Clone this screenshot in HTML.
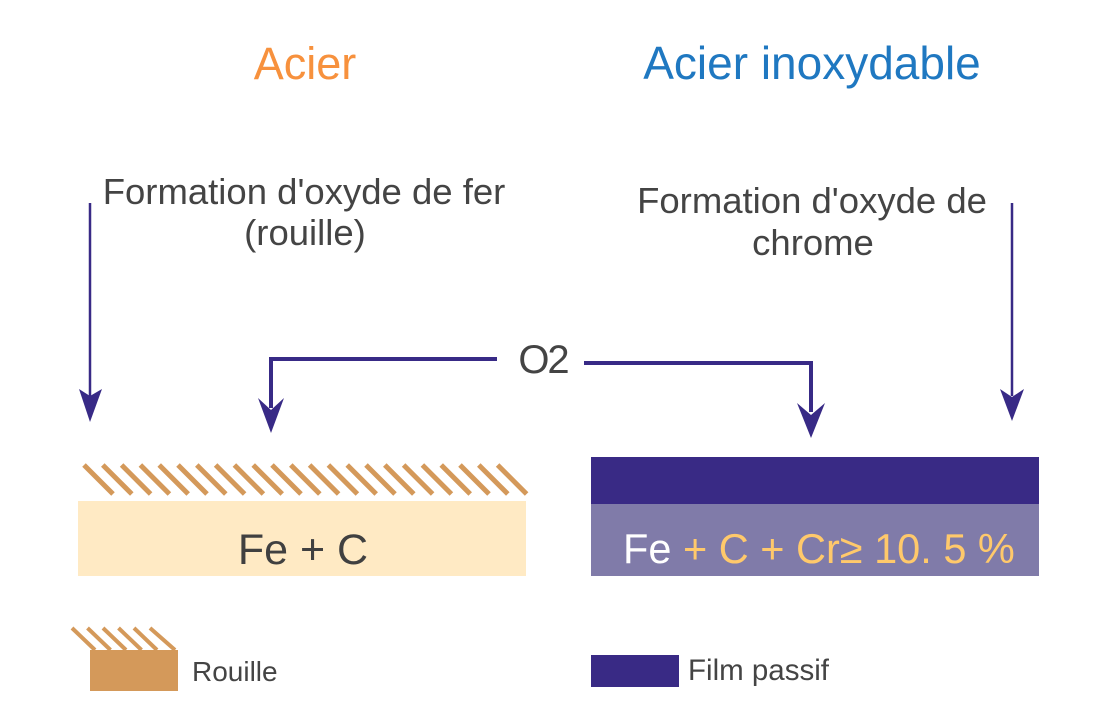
<!DOCTYPE html>
<html>
<head>
<meta charset="utf-8">
<style>
  html, body { margin: 0; padding: 0; background: #ffffff; }
  body { width: 1113px; height: 723px; overflow: hidden; }
  svg { display: block; }
  text { font-family: "Liberation Sans", "DejaVu Sans", sans-serif; }
</style>
</head>
<body>
<svg width="1113" height="723" viewBox="0 0 1113 723" xmlns="http://www.w3.org/2000/svg">
  <rect x="0" y="0" width="1113" height="723" fill="#ffffff"/>

  <!-- Titles -->
  <text x="305" y="79" font-size="45" fill="#f7913d" text-anchor="middle">Acier</text>
  <text x="812" y="79" font-size="46" fill="#1f78c1" text-anchor="middle">Acier inoxydable</text>

  <!-- Subtitles -->
  <text x="304" y="204" font-size="36.5" fill="#444444" text-anchor="middle">Formation d'oxyde de fer</text>
  <text x="305" y="245" font-size="36.5" fill="#444444" text-anchor="middle">(rouille)</text>
  <text x="812" y="213" font-size="36.5" fill="#444444" text-anchor="middle">Formation d'oxyde de</text>
  <text x="813" y="255" font-size="36.5" fill="#444444" text-anchor="middle">chrome</text>

  <!-- Thin side arrows -->
  <line x1="90" y1="203" x2="90" y2="396" stroke="#382a86" stroke-width="2.5"/>
  <polygon points="79,389 90,396 102,389 90,422" fill="#382a86"/>
  <line x1="1012" y1="203" x2="1012" y2="396" stroke="#382a86" stroke-width="2.5"/>
  <polygon points="1000,389 1012,397 1024,389 1012,421" fill="#382a86"/>

  <!-- O2 connectors -->
  <text x="543" y="373" font-size="40" fill="#444444" text-anchor="middle" letter-spacing="-2">O2</text>
  <polyline points="497,359 271,359 271,408" fill="none" stroke="#382a86" stroke-width="4"/>
  <polygon points="258,398 271,410 284,398 271,433" fill="#382a86"/>
  <polyline points="584,363 811,363 811,412" fill="none" stroke="#382a86" stroke-width="4"/>
  <polygon points="797,403 811,415 825,403 811,438" fill="#382a86"/>

  <!-- Left: rust hatch -->
  <g stroke="#d4995a" stroke-width="5" stroke-linecap="butt">
    <line x1="84" y1="465" x2="113" y2="494"/>
    <line x1="102.8" y1="465" x2="131.8" y2="494"/>
    <line x1="121.6" y1="465" x2="150.6" y2="494"/>
    <line x1="140.4" y1="465" x2="169.4" y2="494"/>
    <line x1="159.2" y1="465" x2="188.2" y2="494"/>
    <line x1="178" y1="465" x2="207" y2="494"/>
    <line x1="196.8" y1="465" x2="225.8" y2="494"/>
    <line x1="215.6" y1="465" x2="244.6" y2="494"/>
    <line x1="234.4" y1="465" x2="263.4" y2="494"/>
    <line x1="253.2" y1="465" x2="282.2" y2="494"/>
    <line x1="272" y1="465" x2="301" y2="494"/>
    <line x1="290.8" y1="465" x2="319.8" y2="494"/>
    <line x1="309.6" y1="465" x2="338.6" y2="494"/>
    <line x1="328.4" y1="465" x2="357.4" y2="494"/>
    <line x1="347.2" y1="465" x2="376.2" y2="494"/>
    <line x1="366" y1="465" x2="395" y2="494"/>
    <line x1="384.8" y1="465" x2="413.8" y2="494"/>
    <line x1="403.6" y1="465" x2="432.6" y2="494"/>
    <line x1="422.4" y1="465" x2="451.4" y2="494"/>
    <line x1="441.2" y1="465" x2="470.2" y2="494"/>
    <line x1="460" y1="465" x2="489" y2="494"/>
    <line x1="478.8" y1="465" x2="507.8" y2="494"/>
    <line x1="497.6" y1="465" x2="526.6" y2="494"/>
  </g>
  <rect x="78" y="501" width="448" height="75" fill="#ffeac4"/>
  <text x="303" y="564" font-size="43" fill="#404040" text-anchor="middle">Fe + C</text>

  <!-- Right: passive film -->
  <rect x="591" y="457" width="448" height="47" fill="#392a85"/>
  <rect x="591" y="504" width="448" height="72" fill="#807ba9"/>
  <text x="623" y="563" font-size="41.5" fill="#ffc96b"><tspan fill="#ffffff">Fe</tspan> + C + Cr≥ 10. 5 %</text>

  <!-- Legend: Rouille -->
  <g stroke="#d4995a" stroke-width="4" stroke-linecap="butt">
    <line x1="72" y1="628" x2="95" y2="650"/>
    <line x1="87.5" y1="628" x2="110.5" y2="650"/>
    <line x1="103" y1="628" x2="126" y2="650"/>
    <line x1="118.5" y1="628" x2="141.5" y2="650"/>
    <line x1="134" y1="628" x2="157" y2="650"/>
    <line x1="150" y1="628" x2="175" y2="650"/>
  </g>
  <rect x="90" y="650" width="88" height="41" fill="#d4995a"/>
  <text x="192" y="681" font-size="28" fill="#444444">Rouille</text>

  <!-- Legend: Film passif -->
  <rect x="591" y="655" width="88" height="32" fill="#392a85"/>
  <text x="688" y="680" font-size="29.5" fill="#444444">Film passif</text>
</svg>
</body>
</html>
